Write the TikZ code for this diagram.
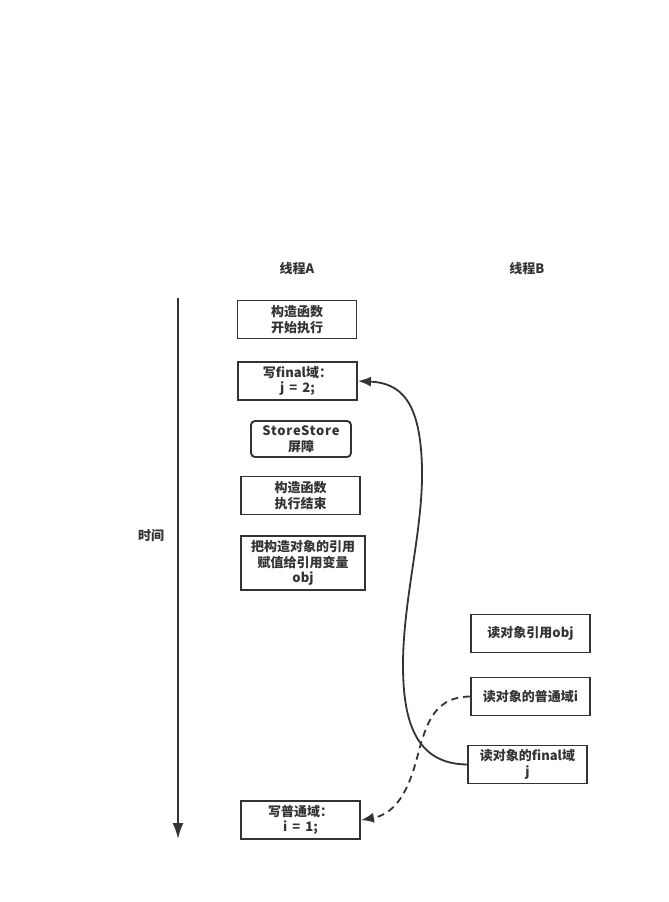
\documentclass[tikz,border=0pt]{standalone}
\usepackage{fontspec}
\setmainfont{Noto Sans CJK SC}
\usetikzlibrary{arrows.meta}
\definecolor{ink}{HTML}{333333}
\begin{document}
\begin{tikzpicture}[x=1pt,y=-1pt,
  every node/.style={font=\bfseries\fontsize{13}{15.5}\selectfont, text=ink, align=center, inner sep=0pt},
  stepbox/.style={draw=ink, line width=1.9pt, minimum width=#1, minimum height=38pt},
  stepbox/.default=119pt,
  link/.style={draw=ink, line width=1.8pt, -{Latex[length=13pt,width=10pt]}},
  label/.style={font=\bfseries\fontsize{13}{15}\selectfont}]
\useasboundingbox (0,0) rectangle (669,902);

% column headings
\node[label] (ta) at (297,269) {线程A};
\node[label] (tb) at (527,269) {线程B};

% time axis
\coordinate (t0) at (178,298);
\coordinate (t1) at (178,839);
\draw[ink, line width=1.9pt, -{Latex[length=16pt,width=11pt]}] (t0) -- (t1);
\node[label] (time) at (151,536) {时间};

% thread A
\node[stepbox] (a1) at (297,319.5) {构造函数\\开始执行};
\node[stepbox] (a2) at (297.5,381) {写final域：\\j\ \,=\ \,2;};
\node[stepbox=100pt, minimum height=36pt, rounded corners=4pt] (a3) at (301,439) {\addfontfeature{LetterSpace=6}StoreStore\\屏障};
\node[stepbox] (a4) at (300.5,495.5) {构造函数\\执行结束};
\node[stepbox=124pt, minimum height=54pt] (a5) at (303,563) {把构造对象的引用\\赋值给引用变量\\obj};
\node[stepbox] (a6) at (300.5,820) {写普通域：\\i\ \,=\ \,1;};

% thread B
\node[stepbox] (b1) at (530.5,633.5) {读对象引用obj};
\node[stepbox] (b2) at (530.5,696.5) {读对象的普通域i};
\node[stepbox] (b3) at (527.5,764.5) {读对象的final域\\j};

% reorderings
\path[link] (b3.west) .. controls (415,764) and (403,720) .. (403,665)
  .. controls (403,600) and (423,530) .. (422,470)
  .. controls (421,400) and (400,383) .. (a2.east);
\path[link, dashed, dash pattern=on 7pt off 5pt] (b2.west) .. controls (430,697) and (425,730) .. (415,765)
  .. controls (405,800) and (390,815) .. (a6.east);
\end{tikzpicture}
\end{document}
